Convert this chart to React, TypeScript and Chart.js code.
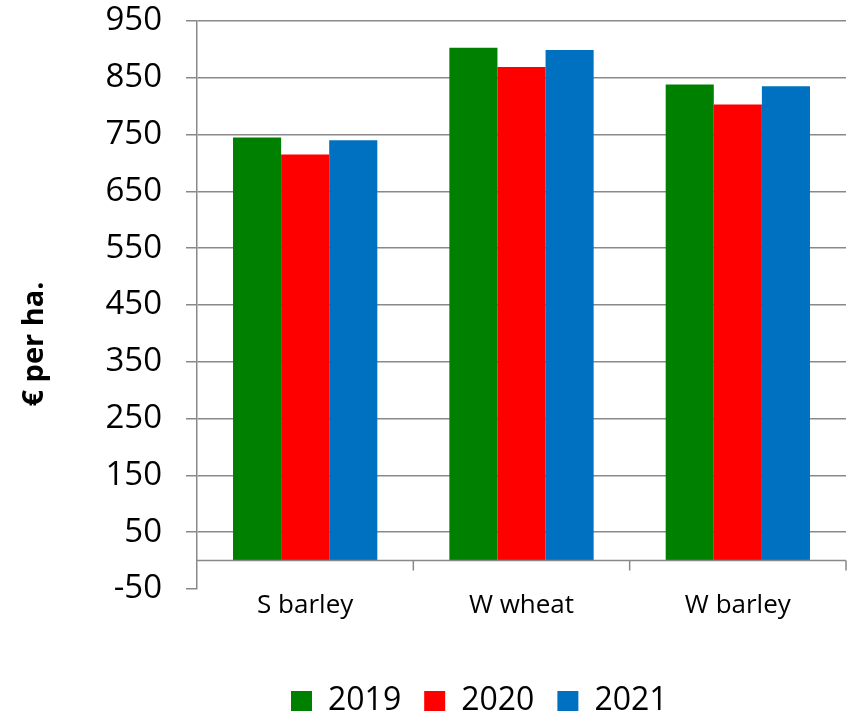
import React, { useEffect, useRef } from "react";
import { Chart, registerables } from "chart.js";

Chart.register(...registerables);

const categories = ["S barley", "W wheat", "W barley"];
const seriesNames = ["2019", "2020", "2021"];
const values2019 = [745, 903, 838];
const values2020 = [715, 869, 803];
const values2021 = [740, 899, 835];
const seriesColors = ["#008000", "#FF0000", "#0070C0"];
const yTickValues = [-50, 50, 150, 250, 350, 450, 550, 650, 750, 850, 950];
const yAxisTitle = "€ per ha.";

const W = 854;
const H = 714;
const PLOT_LEFT = 197;
const PLOT_RIGHT = 846;
const PLOT_TOP = 21;
const PLOT_BOTTOM = 589;
const GRID = "#898989";
const FONT = "'Open Sans', 'DejaVu Sans', sans-serif";
const LEGEND_BOX_X = 291;
const LEGEND_CY = 701;
const LEGEND_PAD = 23;

const zeroLinePlugin = {
  id: "zeroLine",
  afterDatasetsDraw(chart: any) {
    const { ctx, chartArea, scales } = chart;
    const y0 = scales.y.getPixelForValue(0);
    ctx.save();
    ctx.strokeStyle = GRID;
    ctx.lineWidth = 1.5;
    ctx.beginPath();
    ctx.moveTo(chartArea.left, y0);
    ctx.lineTo(chartArea.right, y0);
    for (let i = 0; i < categories.length; i++) {
      const x = scales.x.getPixelForValue(i + 0.5);
      ctx.moveTo(x, y0);
      ctx.lineTo(x, y0 + 10);
    }
    ctx.stroke();
    ctx.restore();
  },
};

const axisTitlePlugin = {
  id: "axisTitle",
  afterDraw(chart: any) {
    const { ctx } = chart;
    ctx.save();
    ctx.translate(35, 344);
    ctx.rotate(-Math.PI / 2);
    ctx.font = `bold 29px ${FONT}`;
    ctx.fillStyle = "#000";
    ctx.textAlign = "center";
    ctx.textBaseline = "middle";
    ctx.fillText(yAxisTitle, 0, 0);
    ctx.restore();
  },
};

const legendPlacePlugin = {
  id: "legendPlace",
  afterLayout(chart: any) {
    const l = chart.legend;
    if (!l) return;
    const w = l.right - l.left;
    const h = l.bottom - l.top;
    const itemH = 32;
    l.left = LEGEND_BOX_X - LEGEND_PAD;
    l.right = l.left + w;
    l.top = LEGEND_CY - LEGEND_PAD - itemH / 2;
    l.bottom = l.top + h;
  },
};

export default function App() {
  const ref = useRef<HTMLCanvasElement | null>(null);

  useEffect(() => {
    if (!ref.current) return;
    const series = [values2019, values2020, values2021];
    const chart = new Chart(ref.current, {
      type: "bar",
      data: {
        labels: categories,
        datasets: seriesNames.map((name, i) => ({
          label: name,
          data: series[i],
          backgroundColor: seriesColors[i],
          borderWidth: 0,
          categoryPercentage: 0.667,
          barPercentage: 1.0,
        })),
      },
      options: {
        animation: false,
        responsive: false,
        devicePixelRatio: 1,
        layout: {
          padding: { left: 0, right: W - PLOT_RIGHT, top: PLOT_TOP, bottom: 0 },
        },
        plugins: {
          legend: {
            position: "bottom",
            align: "start",
            labels: {
              boxWidth: 21,
              boxHeight: 20,
              padding: LEGEND_PAD,
              color: "#000",
              font: { family: FONT, size: 32 },
            },
          },
          tooltip: { enabled: false },
          title: { display: false },
        },
        scales: {
          x: {
            type: "category",
            grid: { display: false, drawTicks: false },
            border: { display: false },
            ticks: {
              color: "#000",
              font: { family: FONT, size: 26 },
              padding: 1,
              maxRotation: 0,
            },
            afterFit: (s: any) => {
              const lh = s.chart.legend ? s.chart.legend.height : 0;
              s.height = H - PLOT_BOTTOM - lh;
              s.paddingLeft = 0;
              s.paddingRight = 0;
            },
          },
          y: {
            type: "linear",
            min: -50,
            max: 950,
            afterBuildTicks: (s: any) => {
              s.ticks = yTickValues.map((v) => ({ value: v }));
            },
            afterFit: (s: any) => {
              s.width = PLOT_LEFT;
              s.paddingTop = 0;
              s.paddingBottom = 0;
            },
            grid: {
              color: (c: any) =>
                c.tick && c.tick.value === -50 ? "rgba(0,0,0,0)" : GRID,
              lineWidth: 1.5,
              tickColor: GRID,
              tickWidth: 1.5,
              tickLength: 11,
              drawTicks: true,
            },
            border: { display: true, color: GRID, width: 1.5 },
            ticks: {
              color: "#000",
              font: { family: FONT, size: 33 },
              padding: 24,
              autoSkip: false,
            },
          },
        },
      },
      plugins: [zeroLinePlugin, axisTitlePlugin, legendPlacePlugin],
    });
    return () => chart.destroy();
  }, []);

  return (
    <div style={{ position: "absolute", left: 0, top: 0, width: W, height: H }}>
      <canvas ref={ref} width={W} height={H} />
    </div>
  );
}
